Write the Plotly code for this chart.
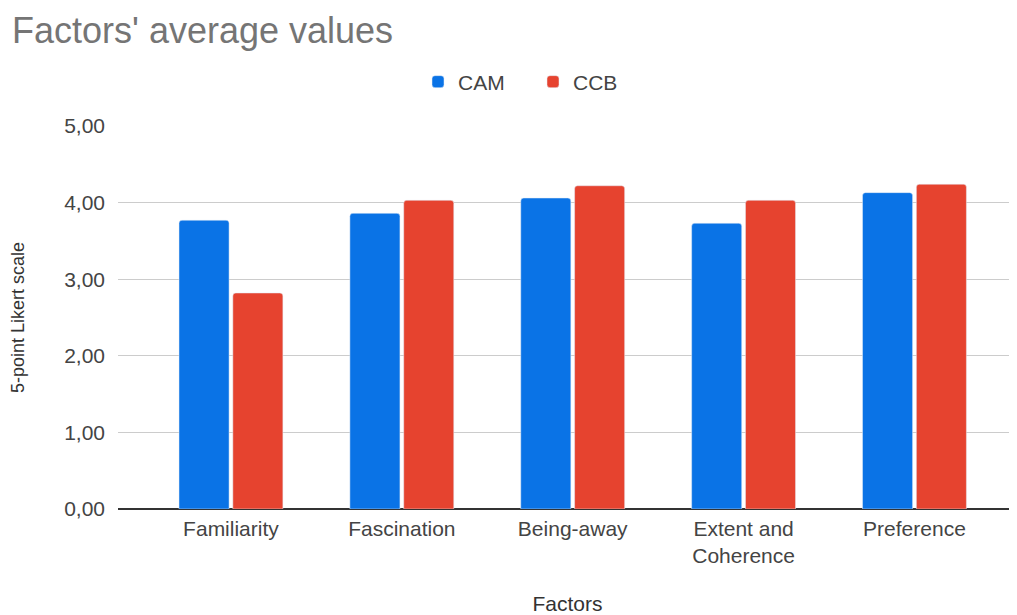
import plotly.graph_objects as go

categories = ["Familiarity", "Fascination", "Being-away", "Extent and<br>Coherence", "Preference"]
cam_values = [3.77, 3.86, 4.06, 3.73, 4.13]
ccb_values = [2.82, 4.03, 4.22, 4.03, 4.24]
y_ticks = [0, 1, 2, 3, 4, 5]

FONT = "Liberation Sans, Arial, sans-serif"

fig = go.Figure()
fig.add_trace(go.Bar(name="CAM", x=categories, y=cam_values,
                     marker=dict(color="#0a73e6", cornerradius=3)))
fig.add_trace(go.Bar(name="CCB", x=categories, y=ccb_values,
                     marker=dict(color="#e6432f", cornerradius=3)))

# page has an 8px body margin, so the figure is drawn 8px smaller and offset
W, H = 1009, 607
fig.update_layout(
    width=W, height=H,
    margin=dict(l=110, r=0, t=118, b=106, autoexpand=False),
    paper_bgcolor="white", plot_bgcolor="white",
    font=dict(family=FONT, size=21, color="#444444"),
    title=dict(text="Factors' average values", x=4 / W, xanchor="left",
               y=1 - 22 / H, yanchor="middle",
               font=dict(family=FONT, size=36, color="#757575")),
    barmode="group", bargap=0.37, bargroupgap=0.07,
    separators=",.",
    legend=dict(orientation="h", x=(410 - 110) / 899, xanchor="left",
                y=1 - 74 / H, yref="container", yanchor="middle",
                font=dict(size=21, color="#444444"),
                itemwidth=30, entrywidth=70, traceorder="normal"),
    showlegend=True,
)

fig.update_xaxes(range=[-0.661, 4.6], showgrid=False, showline=False, ticks="",
                 automargin=False, ticklabelstandoff=5,
                 tickfont=dict(size=21, color="#444444"),
                 title=dict(text="Factors", standoff=30, font=dict(size=21, color="#333333")))
fig.update_yaxes(range=[0, 5], tickvals=y_ticks, tickformat=".2f",
                 showgrid=True, gridcolor="#cccccc", gridwidth=1,
                 zeroline=True, zerolinecolor="#333333", zerolinewidth=1.5,
                 ticks="", ticklabelstandoff=12, automargin=False,
                 tickfont=dict(size=21, color="#444444"),
                 title=dict(text="5-point Likert scale", standoff=40,
                            font=dict(size=18, color="#333333")))

fig.write_html("out.html")
